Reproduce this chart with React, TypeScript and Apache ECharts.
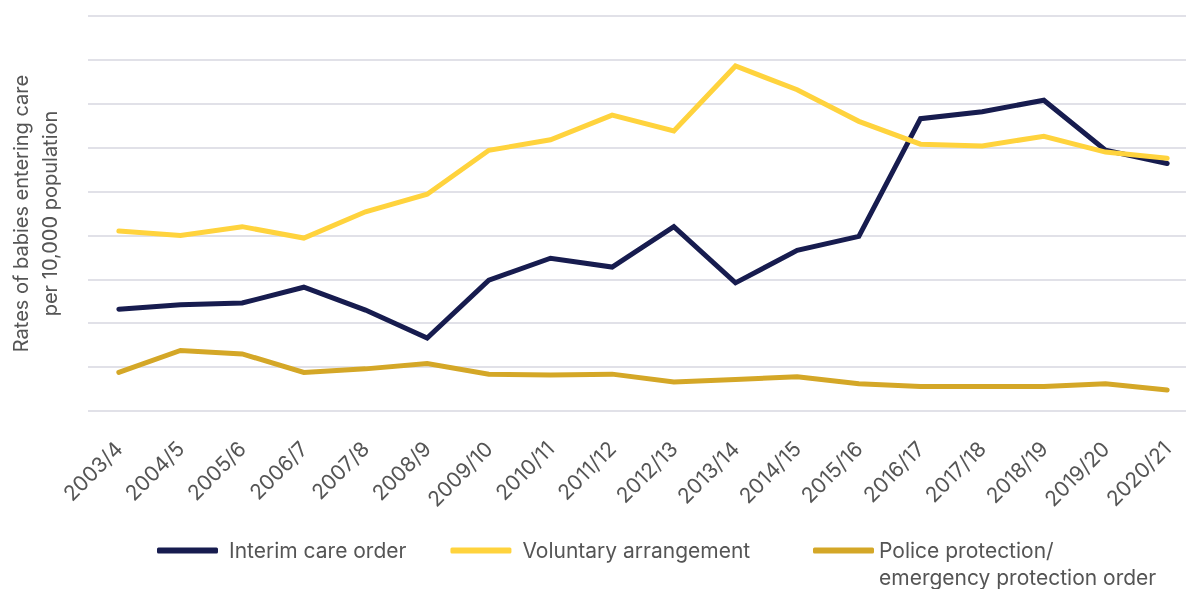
import React, { useEffect, useRef } from "react";
import * as echarts from "echarts";

const categories = [
  "2003/4", "2004/5", "2005/6", "2006/7", "2007/8", "2008/9", "2009/10", "2010/11", "2011/12",
  "2012/13", "2013/14", "2014/15", "2015/16", "2016/17", "2017/18", "2018/19", "2019/20", "2020/21",
];
const interimCareOrder = [11.6, 12.1, 12.3, 14.1, 11.5, 8.3, 14.9, 17.4, 16.4, 21.0, 14.6, 18.3, 19.9, 33.3, 34.1, 35.4, 29.7, 28.2];
const voluntaryArrangement = [20.5, 20.0, 21.0, 19.7, 22.7, 24.7, 29.7, 30.9, 33.7, 31.9, 39.3, 36.6, 33.0, 30.4, 30.2, 31.3, 29.5, 28.8];
const policeProtection = [4.4, 6.9, 6.5, 4.4, 4.8, 5.4, 4.2, 4.1, 4.2, 3.3, 3.6, 3.9, 3.1, 2.8, 2.8, 2.8, 3.1, 2.4];
const seriesNames = ["Interim care order", "Voluntary arrangement", "Police protection/\nemergency protection order"];
const yTitle = "Rates of babies entering care\nper 10,000 population";

const FONT = "Inter, 'Noto Sans', sans-serif";
const TEXT = "#555555";

export default function App() {
  const ref = useRef<HTMLDivElement>(null);
  useEffect(() => {
    if (!ref.current) return;
    const chart = echarts.init(ref.current, null, { renderer: "svg" });
    const mk = (name: string, data: number[], color: string) => ({
      name,
      type: "line",
      data,
      symbol: "none",
      lineStyle: { color, width: 5, cap: "round", join: "miter" },
      itemStyle: { color },
    });
    const legendText = { fontSize: 21, color: TEXT, fontFamily: FONT, lineHeight: 27, padding: [0, 0, 0, 6] };
    const legendBase = {
      padding: 0,
      itemWidth: 61,
      itemHeight: 6,
      itemGap: 44,
      icon: "roundRect",
      textStyle: legendText,
    };
    chart.setOption({
      animation: false,
      textStyle: { fontFamily: FONT },
      grid: { left: 88, right: -12, top: 16, bottom: 178, outerBoundsMode: "none", containLabel: false },
      legend: [
        { ...legendBase, left: 157, top: 537, data: [seriesNames[0], seriesNames[1]] },
        {
          ...legendBase,
          left: 813,
          top: 510,
          data: [seriesNames[2]],
          formatter: (name: string) => "\n" + name,
          textStyle: { ...legendText, padding: [0, 0, 0, 0] },
        },
      ],
      xAxis: {
        type: "category",
        data: categories,
        boundaryGap: true,
        axisLine: { show: false },
        axisTick: { show: false },
        axisLabel: { rotate: 45, fontSize: 21, color: TEXT, fontFamily: FONT, margin: 34, interval: 0 },
      },
      yAxis: {
        type: "value",
        min: 0,
        max: 45,
        interval: 5,
        name: yTitle,
        nameLocation: "middle",
        nameGap: 24,
        nameRotate: 90,
        nameTextStyle: { fontSize: 20, color: TEXT, fontFamily: FONT, lineHeight: 29 },
        axisLabel: { show: false },
        axisLine: { show: false },
        axisTick: { show: false },
        splitLine: { show: true, lineStyle: { color: "#e1e1e8", width: 2 } },
      },
      series: [
        mk(seriesNames[0], interimCareOrder, "#171c4f"),
        mk(seriesNames[1], voluntaryArrangement, "#ffd33d"),
        mk(seriesNames[2], policeProtection, "#d4a727"),
      ],
    });
    return () => chart.dispose();
  }, []);
  return <div ref={ref} style={{ position: "fixed", left: 0, top: 0, width: 1186, height: 589 }} />;
}
